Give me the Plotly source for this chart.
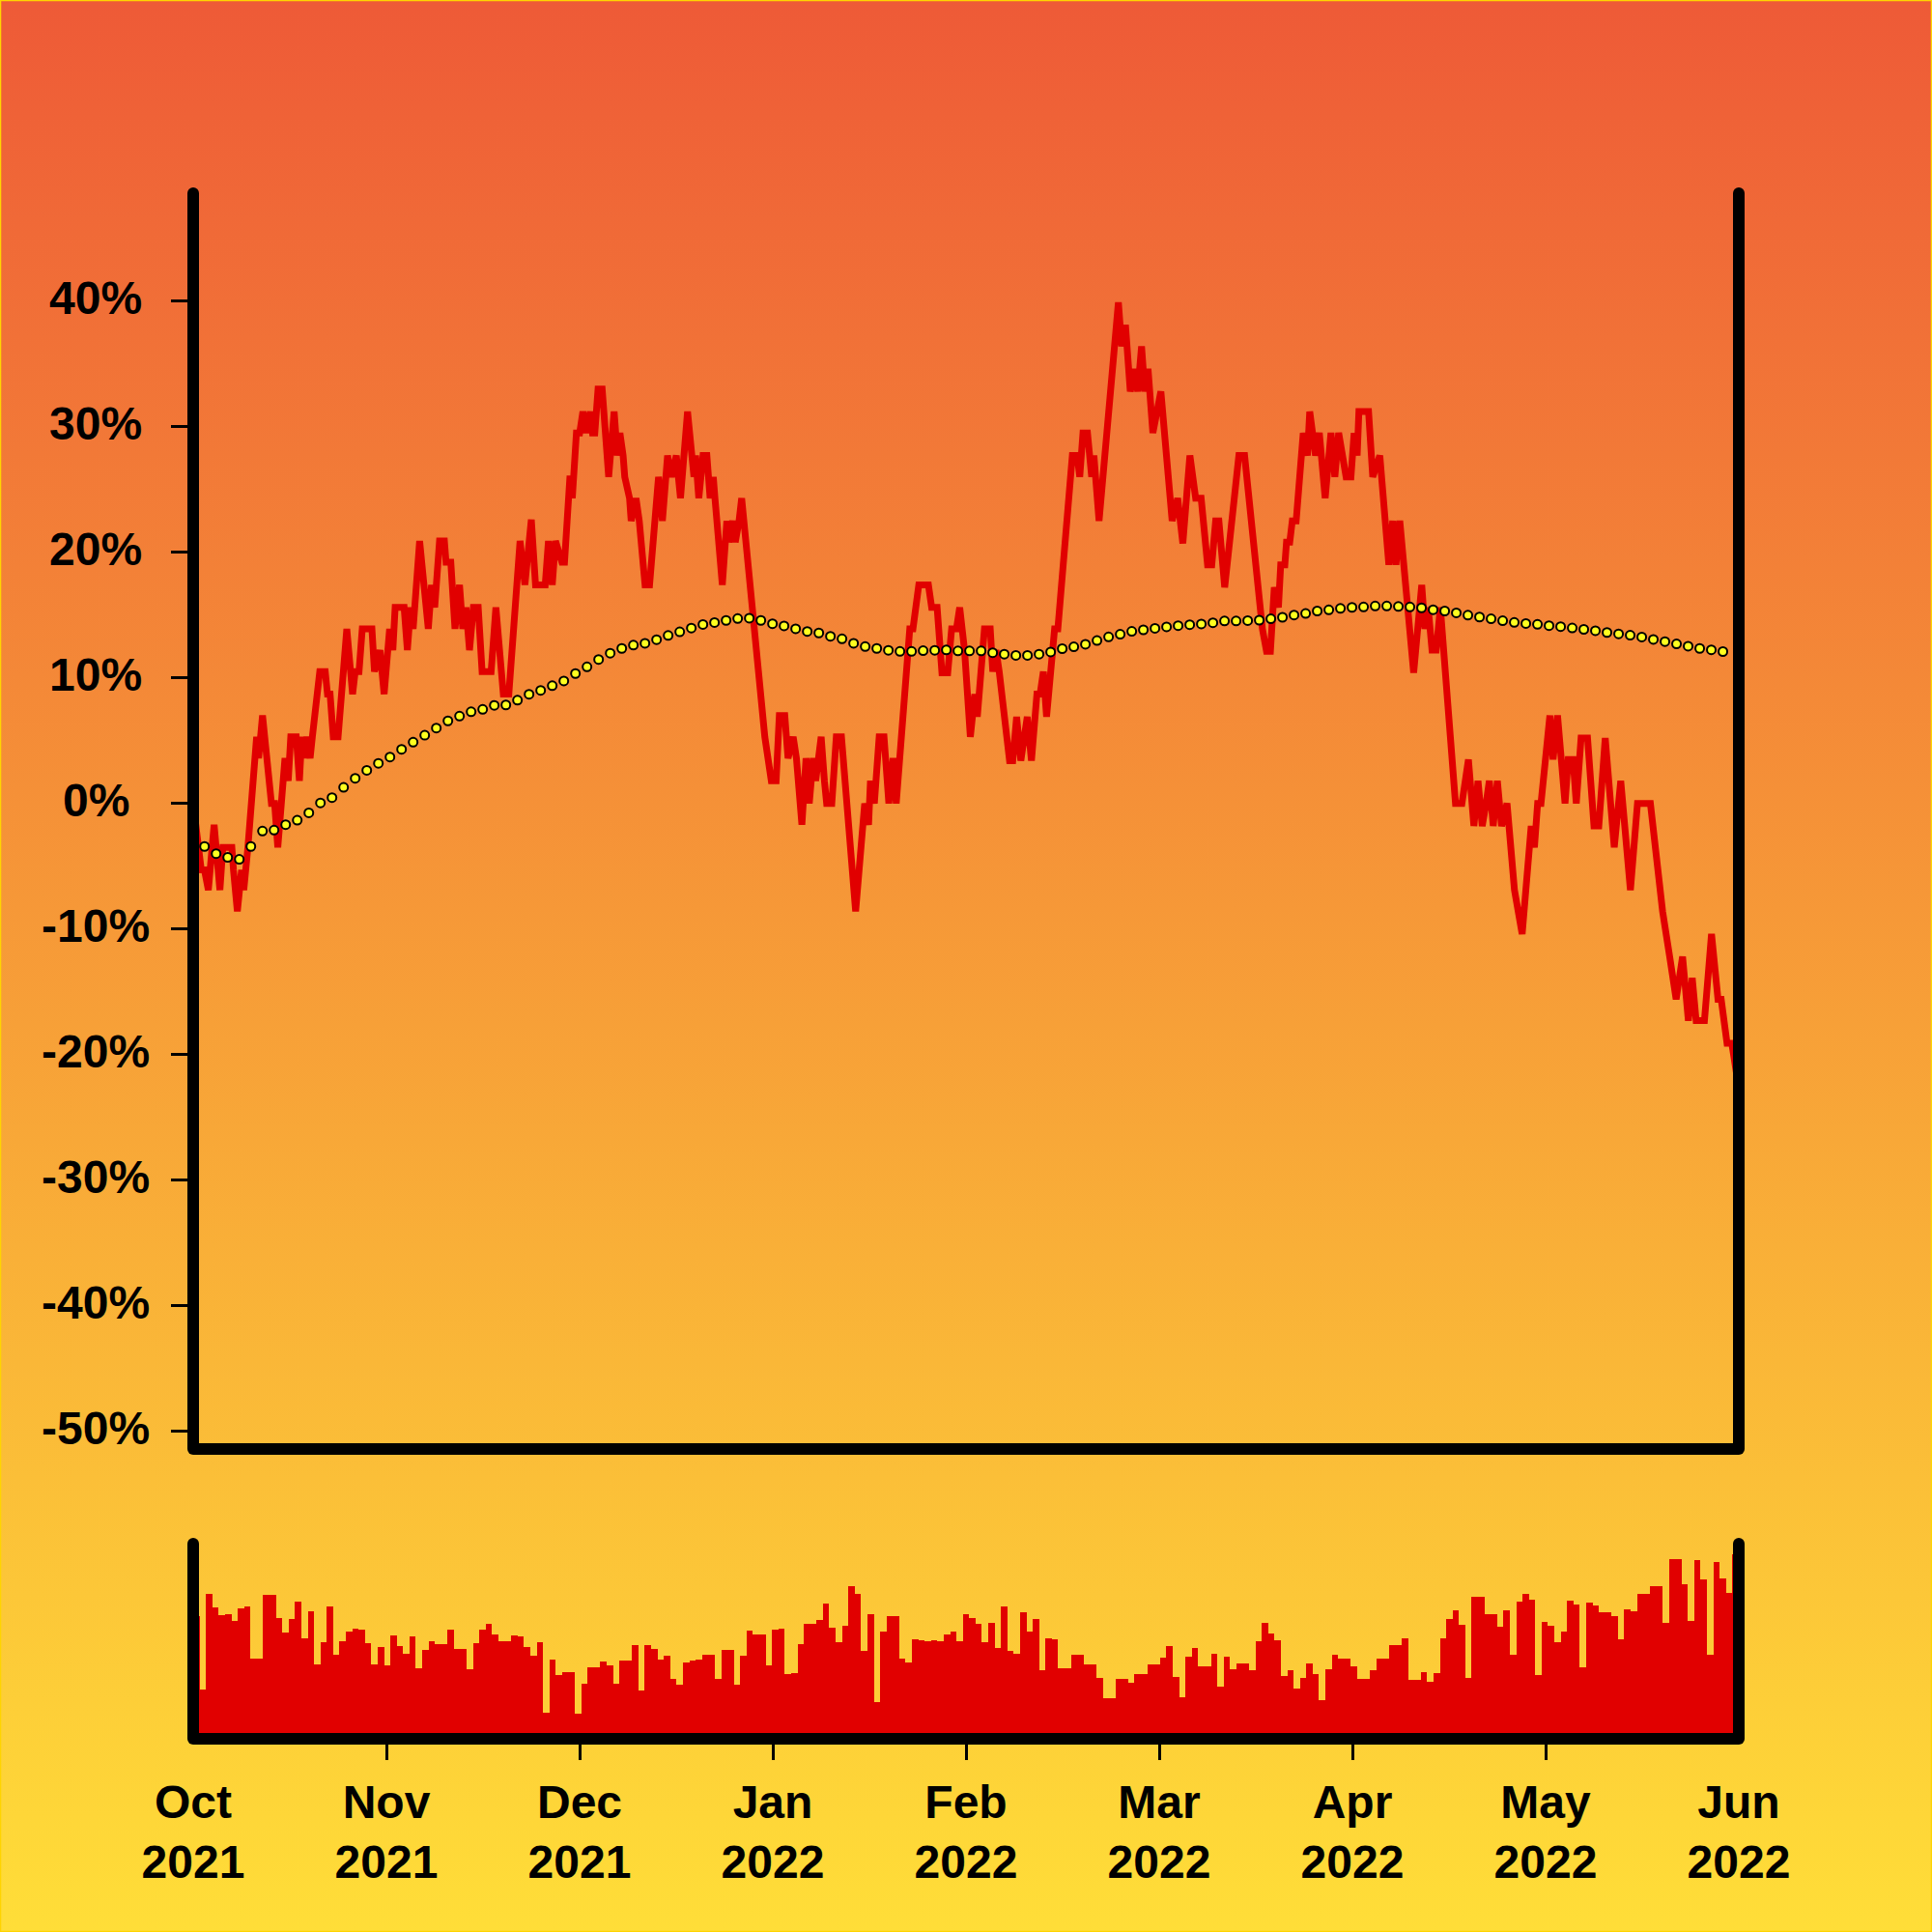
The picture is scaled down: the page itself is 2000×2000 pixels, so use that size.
import base64
import pandas as pd
import plotly.graph_objects as go

# ---------------- data ----------------
START = pd.Timestamp("2021-10-01")
END = pd.Timestamp("2022-06-01")

# price change (%) vertices: (days since 2021-10-01, percent)
price_points = [
    (0.0, 0.0), (1.27, -5.3), (1.77, -5.3), (2.38, -6.9), (3.29, -1.7), (4.2, -6.9), (4.66, -3.5),
    (6.08, -3.5), (6.33, -5.3), (6.94, -8.6), (7.6, -5.3), (7.95, -6.9), (8.6, -3.5), (9.97, 5.3),
    (10.28, 3.6), (10.9, 7.0), (12.3, 0.0), (12.8, 0.0), (13.3, -3.5), (14.43, 3.6), (14.94, 1.8),
    (15.34, 5.3), (16.2, 5.3), (16.7, 1.8), (17.06, 5.3), (17.47, 3.6), (17.87, 5.3), (18.38, 3.6),
    (18.73, 5.3), (19.9, 10.5), (20.76, 10.5), (21.11, 8.7), (21.52, 8.7), (22.02, 5.3), (22.78, 5.3),
    (24.15, 13.9), (25.06, 8.7), (25.47, 10.5), (26.07, 10.5), (26.58, 13.9), (28.1, 13.9), (28.5, 10.5),
    (29.37, 12.2), (30.02, 8.7), (30.88, 13.9), (31.39, 12.2), (31.75, 15.6), (33.16, 15.6), (33.67, 12.2),
    (34.18, 15.6), (34.58, 13.9), (35.6, 20.9), (36.96, 13.9), (37.47, 17.4), (37.97, 15.6), (38.73, 20.9),
    (39.49, 20.9), (39.75, 19.2), (40.5, 19.2), (41.16, 13.9), (41.87, 17.4), (42.38, 13.9), (42.89, 15.6),
    (43.44, 12.2), (44.05, 15.6), (44.81, 15.6), (45.42, 10.5), (46.84, 10.5), (47.59, 15.6), (48.76, 8.7),
    (49.62, 8.7), (51.39, 20.9), (52.15, 17.4), (53.16, 22.6), (53.82, 17.4), (55.34, 17.4), (55.85, 20.9),
    (56.45, 17.4), (56.96, 20.9), (57.97, 19.2), (58.38, 19.2), (59.24, 26.1), (59.6, 24.3), (60.25, 29.5),
    (60.76, 29.5), (61.27, 31.2), (61.77, 29.5), (62.43, 31.2), (62.78, 29.5), (63.14, 29.5), (63.65, 33.0),
    (64.3, 33.0), (65.32, 26.0), (66.18, 31.2), (66.68, 27.7), (67.09, 29.5), (67.59, 27.7), (67.85, 26.0),
    (68.6, 24.3), (68.86, 22.5), (69.62, 24.3), (70.13, 22.5), (71.04, 17.4), (71.75, 17.4), (73.16, 26.0),
    (73.77, 22.5), (74.58, 27.7), (75.19, 26.0), (75.95, 27.7), (76.61, 24.3), (77.72, 31.2), (78.73, 26.0),
    (78.99, 27.7), (79.49, 24.3), (80.15, 27.7), (80.76, 27.7), (81.27, 24.3), (81.77, 26.0), (82.03, 24.3),
    (83.19, 17.4), (83.9, 22.5), (84.2, 20.8), (84.81, 22.5), (85.22, 20.8), (85.82, 22.5), (86.23, 24.3),
    (89.87, 5.3), (90.38, 3.6), (90.89, 1.8), (91.65, 1.8), (92.15, 7.0), (93.01, 7.0), (93.16, 5.3),
    (93.52, 3.6), (94.33, 5.3), (94.84, 3.6), (95.7, -1.7), (96.35, 3.6), (96.86, 0.0), (97.47, 3.6),
    (97.87, 1.8), (98.73, 5.3), (99.24, 1.8), (99.59, 0.0), (100.4, 0.0), (101.11, 5.3), (101.92, 5.3),
    (104.15, -8.6), (105.57, 0.0), (106.18, -1.7), (106.48, 1.8), (107.09, 0.0), (107.85, 5.3), (108.61, 5.3),
    (109.37, 0.0), (110.03, 3.6), (110.53, 0.0), (112.66, 13.9), (113.16, 13.9), (114.08, 17.4), (115.59, 17.4),
    (116.1, 15.6), (116.96, 15.6), (117.72, 10.4), (118.63, 10.4), (119.24, 13.9), (120.0, 13.9), (120.51, 15.6),
    (121.27, 12.2), (122.18, 5.3), (122.88, 8.7), (123.28, 6.9), (124.4, 13.9), (125.31, 13.9), (125.71, 10.5),
    (126.22, 12.2), (126.72, 10.5), (128.35, 3.4), (128.85, 3.4), (129.46, 6.9), (130.12, 3.4), (131.13, 6.9),
    (131.79, 3.4), (132.65, 8.7), (133.15, 8.7), (133.66, 10.5), (134.17, 6.9), (135.43, 13.9), (135.94, 13.9),
    (138.22, 27.7), (138.98, 27.7), (139.38, 26.0), (139.89, 29.5), (140.6, 29.5), (141.26, 26.0), (141.61, 27.7),
    (142.42, 22.5), (145.46, 39.9), (145.97, 36.4), (146.57, 38.1), (147.33, 32.8), (148.0, 34.6), (148.5, 32.8),
    (149.1, 36.4), (149.61, 32.8), (150.12, 34.6), (150.88, 29.5), (151.39, 31.2), (152.14, 32.8), (153.91, 22.5),
    (154.78, 24.3), (155.59, 20.7), (156.7, 27.7), (157.61, 24.3), (158.47, 24.3), (159.48, 19.0), (160.14, 19.0),
    (160.75, 22.5), (161.26, 22.5), (162.17, 17.2), (163.55, 24.3), (163.95, 26.0), (164.4, 27.7), (165.3, 27.7),
    (167.6, 15.6), (168.1, 13.9), (168.75, 12.1), (169.36, 12.1), (169.97, 17.2), (170.62, 15.6), (170.98, 19.0),
    (171.63, 19.0), (171.89, 20.8), (172.4, 20.8), (172.8, 22.5), (173.41, 22.5), (174.52, 29.5), (175.18, 27.7),
    (175.54, 31.2), (176.04, 29.5), (176.45, 27.7), (177.05, 29.5), (177.97, 24.3), (178.88, 29.5), (179.49, 26.0),
    (180.09, 29.5), (180.75, 27.7), (181.26, 26.0), (182.02, 26.0), (182.52, 29.5), (183.0, 27.7), (183.27, 31.2),
    (184.79, 31.2), (185.45, 26.0), (186.56, 27.7), (187.98, 19.0), (188.59, 22.5), (189.1, 19.0), (189.7, 22.5),
    (191.88, 10.4), (193.15, 17.4), (193.65, 13.9), (194.16, 15.6), (194.77, 12.2), (195.42, 12.2), (196.08, 15.6),
    (198.46, 0.0), (199.47, 0.0), (200.49, 3.5), (201.35, -1.8), (202.0, 1.8), (202.66, -1.8), (203.27, 0.0),
    (203.78, 1.8), (204.39, -1.8), (205.04, 1.8), (205.7, -1.8), (206.56, 0.0), (207.73, -6.9), (208.94, -10.4),
    (210.36, -1.8), (210.87, -3.5), (211.37, 0.0), (211.9, 0.0), (213.3, 7.0), (213.8, 3.5), (214.5, 7.0),
    (215.68, 0.0), (216.18, 3.5), (216.94, 3.5), (217.45, 0.0), (218.2, 5.2), (219.22, 5.2), (220.23, -1.8),
    (220.99, -1.8), (222.0, 5.2), (223.42, -3.5), (224.44, 1.8), (225.96, -6.9), (227.07, 0.0), (229.1, 0.0),
    (230.51, -6.9), (231.02, -8.6), (232.13, -12.2), (232.54, -13.9), (233.15, -15.6), (234.16, -12.2),
    (235.07, -17.3), (235.68, -13.9), (236.29, -17.3), (237.6, -17.3), (238.71, -10.4), (239.73, -15.6),
    (240.23, -15.6), (241.15, -19.1), (241.9, -19.1), (243.0, -22.7),
]

# moving average (%) markers, evenly spaced between these two times
ma_first = "2021-10-02 18:43"
ma_last = "2022-05-29 12:00"
ma_pct = [
    -3.43, -4.0, -4.3, -4.45, -3.43, -2.2, -2.13, -1.69, -1.34, -0.75,
    0.04, 0.46, 1.28, 2.0, 2.63, 3.19, 3.69, 4.31, 4.87, 5.43,
    6.0, 6.57, 6.95, 7.3, 7.49, 7.81, 7.84, 8.22, 8.69, 9.0,
    9.37, 9.75, 10.34, 10.87, 11.46, 11.96, 12.34, 12.6, 12.75, 13.04,
    13.37, 13.66, 13.96, 14.25, 14.4, 14.57, 14.72, 14.75, 14.57, 14.31,
    14.13, 13.9, 13.69, 13.57, 13.31, 13.1, 12.75, 12.49, 12.34, 12.19,
    12.1, 12.1, 12.16, 12.19, 12.22, 12.14, 12.14, 12.14, 12.0, 11.88,
    11.79, 11.79, 11.88, 12.06, 12.32, 12.47, 12.67, 12.97, 13.26, 13.47,
    13.7, 13.82, 13.94, 14.06, 14.15, 14.23, 14.29, 14.38, 14.53, 14.53,
    14.56, 14.59, 14.7, 14.82, 15.0, 15.12, 15.32, 15.41, 15.53, 15.61,
    15.64, 15.72, 15.72, 15.68, 15.64, 15.57, 15.42, 15.32, 15.17, 14.99,
    14.84, 14.7, 14.55, 14.41, 14.33, 14.26, 14.15, 14.08, 13.97, 13.86,
    13.75, 13.61, 13.5, 13.39, 13.25, 13.06, 12.88, 12.7, 12.52, 12.34,
    12.23, 12.09,
]

# daily volume (arbitrary units), one bar per day from 2021-10-01
volume = [
    127.3, 50.7, 150, 136, 128.3, 128.7, 121.7, 135, 136.7, 83.3,
    83.3, 149, 149, 125, 110, 124, 141.7, 104, 131.7, 76.7,
    100, 136.7, 86.7, 101, 111, 114, 113.3, 99, 77.3, 95,
    76, 107.3, 96, 87.7, 106, 73.3, 91.7, 101, 98.3, 98.3,
    112.7, 93.3, 93.3, 72.3, 99, 112.7, 119.3, 108.3, 100.7, 100.7,
    107.3, 105.7, 95, 85.7, 100, 27.3, 81.7, 65.7, 69, 69,
    26, 56.7, 74, 74, 80, 76, 56.7, 81, 81, 96.7,
    50, 96.7, 93.3, 81.7, 86, 62.3, 55.7, 79.3, 80.7, 82,
    86.7, 86.7, 61.7, 92, 92, 55.7, 86, 111.7, 108, 108,
    76, 113, 114.3, 67.3, 68.3, 98.3, 119, 119, 122.7, 140,
    115, 100, 116.7, 158.3, 150, 91, 129.3, 37.7, 110.7, 126.7,
    126.7, 83.3, 79, 102.7, 102.3, 101, 101.7, 100.7, 107.7, 110.7,
    101, 129.3, 125, 119.3, 100, 120, 94, 136.7, 91, 87.7,
    131.3, 111, 124, 71, 104, 102.7, 72.7, 72.7, 86.7, 86.7,
    76.7, 76.7, 63.3, 42.3, 42.3, 62.3, 61.7, 57.7, 66.7, 66.7,
    76.7, 76.7, 84.3, 96, 64.3, 42.7, 84.7, 94, 74.7, 74.7,
    87.7, 54.3, 85.3, 72.3, 77.7, 77.7, 70.7, 100.7, 120, 109,
    101.7, 65, 71, 52.3, 63, 77.7, 66.7, 40, 71.7, 86.7,
    82.7, 82.7, 75, 62, 62, 70.7, 83.3, 83.3, 96.7, 96.7,
    104.3, 60.7, 60.7, 68.7, 59.3, 67.7, 104, 124, 133, 117.7,
    63.3, 147.3, 147.3, 129, 129, 116.3, 132.7, 86.7, 141.7, 150,
    144.3, 65.7, 120.7, 116.7, 100, 110.7, 142.7, 139, 74, 140.7,
    137.7, 130.7, 130.7, 127.3, 103.3, 134, 131.7, 150, 150, 157.7,
    157.7, 120, 185.7, 185.7, 160, 122.3, 185, 165, 87.3, 182.7,
    166, 151, 190.7,
]

month_labels = ["Oct<br>2021", "Nov<br>2021", "Dec<br>2021", "Jan<br>2022", "Feb<br>2022",
                "Mar<br>2022", "Apr<br>2022", "May<br>2022", "Jun<br>2022"]
y_tickvals = [-50, -40, -30, -20, -10, 0, 10, 20, 30, 40]
y_ticktext = ["-50%", "-40%", "-30%", "-20%", "-10%", "0%", "10%", "20%", "30%", "40%"]

# ---------------- styling / layout ----------------
W = H = 2000
ML, MR, MT, MB = 200, 200, 200, 200
AXIS_LW = 12
RED = "#E10000"
BG_TOP, BG_BOTTOM = "#EE5A37", "#FFDE38"
FONT = dict(family="Liberation Sans, Arial, sans-serif", size=48, color="black", weight="bold")
YLABEL_CENTER_PX = 99   # horizontal centre of the y tick labels (from the left edge)

plot_w = W - ML - MR
plot_h = H - MT - MB
main_bottom_px = 1500   # lower edge of upper panel (from top)
vol_top_px = 1598       # upper edge of volume panel (from top)
main_domain = [(H - MB - main_bottom_px) / plot_h, 1.0]
vol_domain = [0.0, (H - MB - vol_top_px) / plot_h]

price_x = [START + pd.Timedelta(days=d) for d, _ in price_points]
price_y = [v for _, v in price_points]
ma_x = pd.date_range(ma_first, ma_last, periods=len(ma_pct))
vol_x = pd.date_range(START, periods=len(volume), freq="D")
month_ticks = list(pd.date_range(START, END, periods=len(month_labels)))

fig = go.Figure()
fig.add_trace(go.Scatter(x=price_x, y=price_y, mode="lines",
                         line=dict(color=RED, width=7), xaxis="x", yaxis="y", hoverinfo="skip"))
fig.add_trace(go.Scatter(x=ma_x, y=ma_pct, mode="markers",
                         marker=dict(size=9, color="#FFFF1F", line=dict(color="black", width=2)),
                         xaxis="x", yaxis="y", hoverinfo="skip"))
fig.add_trace(go.Bar(x=vol_x, y=volume, width=86400000, offset=0,
                     marker=dict(color=RED, line=dict(width=0)), xaxis="x2", yaxis="y2", hoverinfo="skip"))
# empty trace so the label-only axis (x3) is drawn
fig.add_trace(go.Scatter(x=[START, END], y=[None, None], mode="lines", xaxis="x3", yaxis="y2",
                         hoverinfo="skip", showlegend=False))

axis_common = dict(showline=False, showgrid=False, zeroline=False)

# frame lines (drawn as shapes so their centres sit exactly on the plot edges) with round caps
shapes = []
for y_lo, y_hi in (main_domain, vol_domain):
    for x in (0, 1):
        shapes.append(dict(type="line", xref="paper", yref="paper", x0=x, x1=x, y0=y_lo, y1=y_hi,
                           line=dict(color="black", width=AXIS_LW), layer="above"))
    shapes.append(dict(type="line", xref="paper", yref="paper", x0=0, x1=1, y0=y_lo, y1=y_lo,
                       line=dict(color="black", width=AXIS_LW), layer="above"))
    for x in (0, 1):
        for y in (y_lo, y_hi):
            shapes.append(dict(type="circle", xref="paper", yref="paper",
                               xsizemode="pixel", ysizemode="pixel", xanchor=x, yanchor=y,
                               x0=-AXIS_LW / 2, x1=AXIS_LW / 2, y0=-AXIS_LW / 2, y1=AXIS_LW / 2,
                               fillcolor="black", line=dict(width=0), layer="above"))

# y tick labels, centred (as in the reference)
annotations = [dict(text=t, x=(YLABEL_CENTER_PX - ML) / plot_w, xref="paper", xanchor="center",
                    y=v, yref="y", yanchor="middle", yshift=3, showarrow=False, font=FONT)
               for v, t in zip(y_tickvals, y_ticktext)]

svg = (f'<svg xmlns="http://www.w3.org/2000/svg" width="{W}" height="{H}" viewBox="0 0 {W} {H}" '
       f'preserveAspectRatio="none"><defs><linearGradient id="g" x1="0" y1="0" x2="0" y2="1">'
       f'<stop offset="0" stop-color="{BG_TOP}"/><stop offset="1" stop-color="{BG_BOTTOM}"/>'
       f'</linearGradient></defs><rect width="{W}" height="{H}" fill="url(#g)"/>'
       f'<rect x="0.5" y="0.5" width="{W-1}" height="{H-1}" fill="none" stroke="#FFD400" stroke-width="1.5"/></svg>')
bg_src = "data:image/svg+xml;base64," + base64.b64encode(svg.encode()).decode()

tick_style = dict(ticks="outside", ticklen=21, tickwidth=3, tickfont=FONT, ticklabelstandoff=2)

fig.update_layout(
    width=W, height=H, template="none",
    margin=dict(l=ML, r=MR, t=MT, b=MB, pad=0),
    paper_bgcolor=BG_BOTTOM, plot_bgcolor="rgba(0,0,0,0)",
    showlegend=False, bargap=0,
    shapes=shapes, annotations=annotations,
    images=[dict(source=bg_src, xref="paper", yref="paper",
                 x=-ML / plot_w, y=1 + MT / plot_h, sizex=W / plot_w, sizey=H / plot_h,
                 xanchor="left", yanchor="top", sizing="stretch", layer="below")],
    xaxis=dict(domain=[0, 1], anchor="y", range=[START, END], type="date",
               ticks="", showticklabels=False, **axis_common),
    yaxis=dict(domain=main_domain, anchor="x", range=[-51.41, 48.59],
               ticks="outside", ticklen=22, tickwidth=3, tickcolor="black",
               tickvals=y_tickvals, showticklabels=False, **axis_common),
    # interior month ticks (with visible tick marks)
    xaxis2=dict(domain=[0, 1], anchor="y2", range=[START, END], type="date",
                tickcolor="black", tickvals=month_ticks[1:-1], ticktext=month_labels[1:-1],
                **tick_style, **axis_common),
    # first/last month labels sit on the rounded corners: labels only, no visible tick marks
    xaxis3=dict(domain=[0, 1], anchor="y2", overlaying="x2", range=[START, END], type="date",
                tickcolor="rgba(0,0,0,0)", tickvals=[month_ticks[0], month_ticks[-1]],
                ticktext=[month_labels[0], month_labels[-1]], **tick_style, **axis_common),
    yaxis2=dict(domain=vol_domain, anchor="x2", range=[0, 202],
                ticks="", showticklabels=False, **axis_common),
)

fig.write_html("out.html", config={"displayModeBar": False},
               post_script="document.body.style.margin='0';document.body.style.overflow='hidden';")
